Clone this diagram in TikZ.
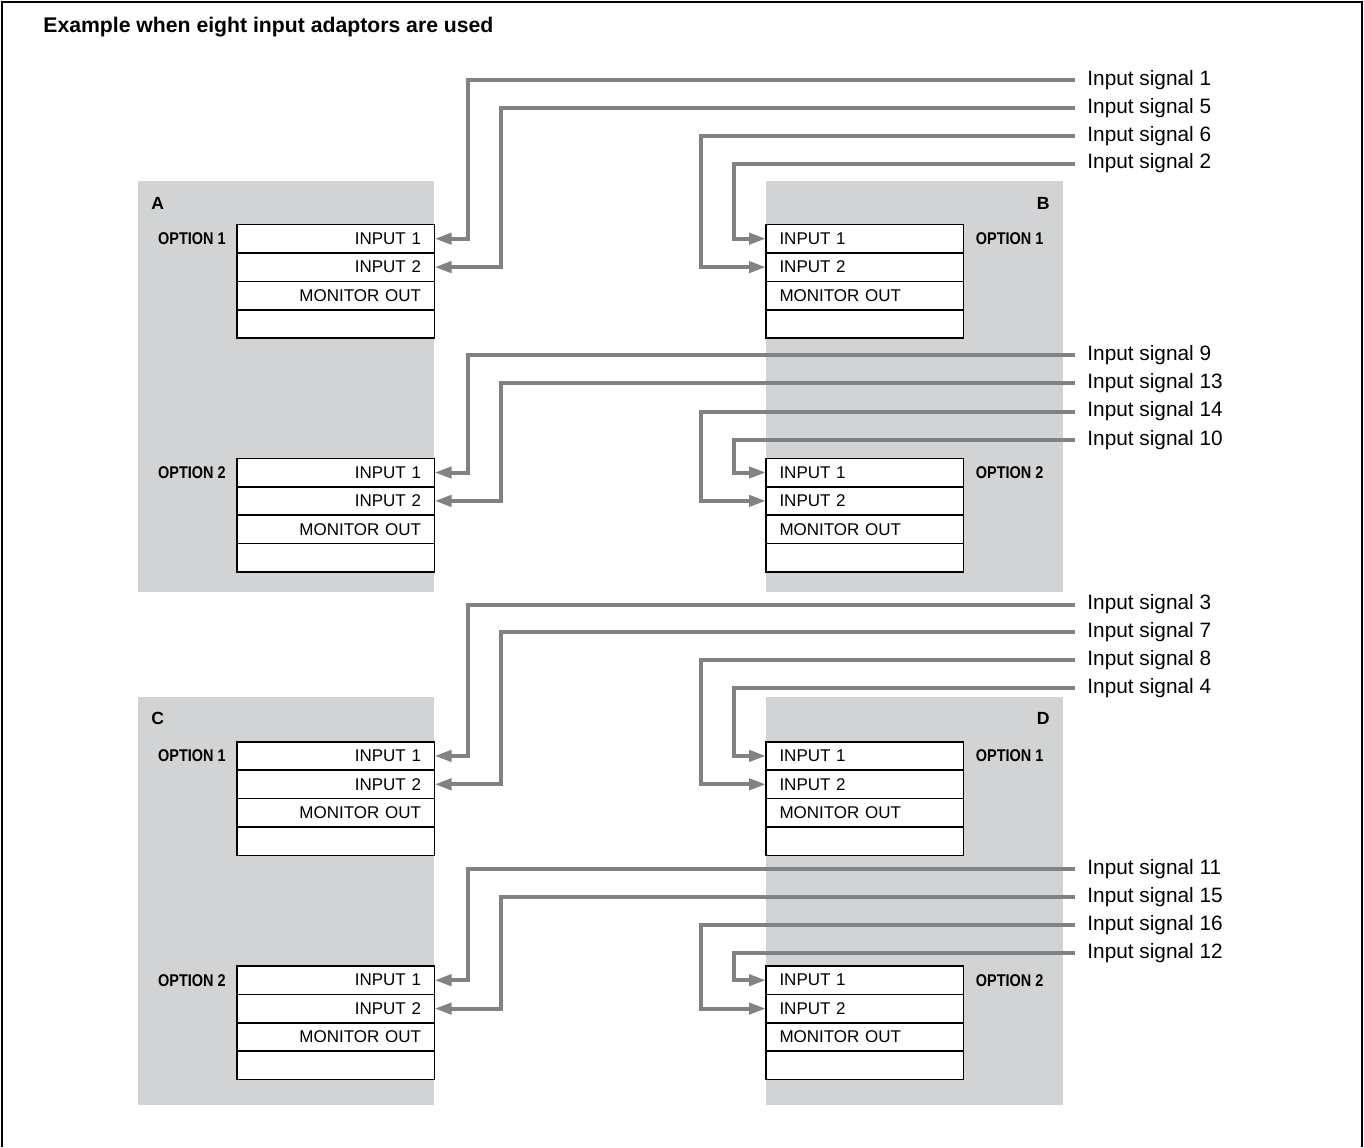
\documentclass[tikz,border=0pt]{standalone}
\usepackage{fontspec}
\setmainfont{Liberation Sans}
\newfontfamily\condfont[FakeStretch=0.85]{Liberation Sans}
\usetikzlibrary{arrows.meta,positioning}
\definecolor{panel}{HTML}{D1D3D4}
\definecolor{wiregray}{HTML}{808285}

\begin{document}
\begin{tikzpicture}[x=0.5pt,y=-0.5pt,
  row/.style={draw,fill=white,line width=0.8pt,minimum width=98.75pt,minimum height=14.2pt,
    inner xsep=6.75pt,inner ysep=0pt,outer sep=0pt,text width=85.25pt,font=\fontsize{8.5}{10}\selectfont},
  optlbl/.style={inner sep=0pt,font=\condfont\bfseries\fontsize{8.5}{10}\selectfont},
  unitlbl/.style={inner sep=0pt,font=\bfseries\fontsize{8.8}{10}\selectfont},
  siglbl/.style={anchor=west,inner xsep=6pt,inner ysep=0pt,font=\fontsize{10.4}{12}\selectfont},
  sigwire/.style={wiregray,line width=2pt,-{Triangle[length=8.5pt,width=5.5pt]}}]
  \useasboundingbox (0,0) rectangle (1364,1147);
  % units
  \fill[panel] (138,181) rectangle (434,592);
  \fill[panel] (766,181) rectangle (1063,592);
  \fill[panel] (138,697.3) rectangle (434,1105);
  \fill[panel] (766,697.3) rectangle (1063,1105);
  % frame
  \draw[line width=1pt] (2,1147) -- (2,2) -- (1362,2) -- (1362,1147);
  \node[anchor=west,inner sep=0pt,font=\bfseries\fontsize{10.6}{12}\selectfont] (title) at (43,27)
    {Example when eight input adaptors are used};
  \node[unitlbl,anchor=west] (uA) at (151,203) {A};
  \node[unitlbl,anchor=east] (uB) at (1050,203) {B};
  \node[unitlbl,anchor=west] (uC) at (151,718) {C};
  \node[unitlbl,anchor=east] (uD) at (1050,718) {D};
  % adaptor tables
  \foreach \t/\x/\y/\al in {a1/237/224.5/right, b1/766/224.5/left, a2/237/458.3/right, b2/766/458.3/left,
                            c1/237/741.7/right, d1/766/741.7/left, c2/237/966/right, d2/766/966/left} {
    \node[row,align=\al,anchor=north west] (\t in1) at (\x,\y) {INPUT 1};
    \node[row,align=\al,below=0pt of \t in1] (\t in2) {INPUT 2};
    \node[row,align=\al,below=0pt of \t in2] (\t mon) {MONITOR OUT};
    \node[row,below=0pt of \t mon] (\t nc) {};
  }
  \foreach \t/\n in {a1/1, a2/2, c1/1, c2/2}
    \node[optlbl,left=5.5pt of \t in1] (opt\t) {OPTION \n};
  \foreach \t/\n in {b1/1, b2/2, d1/1, d2/2}
    \node[optlbl,right=6pt of \t in1] (opt\t) {OPTION \n};
  % bend columns
  \coordinate (colA1) at (468,0);
  \coordinate (colA2) at (501,0);
  \coordinate (colB2) at (700.5,0);
  \coordinate (colB1) at (734,0);
  % input signals
  \foreach \n/\y/\col/\tgt/\side in {
      1/80/colA1/a1in1/east, 5/108/colA2/a1in2/east, 6/136/colB2/b1in2/west, 2/163.5/colB1/b1in1/west,
      9/355/colA1/a2in1/east, 13/383/colA2/a2in2/east, 14/411.5/colB2/b2in2/west, 10/440/colB1/b2in1/west,
      3/604.5/colA1/c1in1/east, 7/632/colA2/c1in2/east, 8/660/colB2/d1in2/west, 4/687.7/colB1/d1in1/west,
      11/869/colA1/c2in1/east, 15/897/colA2/c2in2/east, 16/925/colB2/d2in2/west, 12/952.7/colB1/d2in1/west} {
    \node[siglbl] (s\n) at (1075,\y) {Input signal \n};
    \draw[sigwire] (s\n.west) -| (\col |- \tgt) -- (\tgt.\side);
  }
\end{tikzpicture}
\end{document}
